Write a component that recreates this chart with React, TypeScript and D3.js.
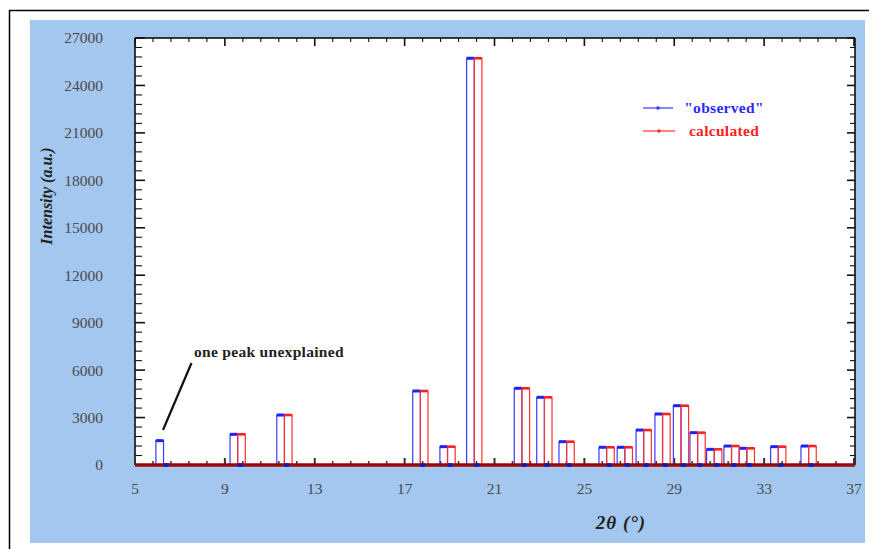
import React from "react";
import * as d3 from "d3";

// Peak positions (2θ, left edge of each observed stick) and intensities
const peakPos = [5.93, 9.23, 11.31, 17.36, 18.57, 19.76, 21.88, 22.88, 23.87, 25.65, 26.46, 27.3, 28.14, 28.96, 29.7, 30.44, 31.21, 31.89, 33.29, 34.64];
const observed = [1540, 1940, 3160, 4680, 1160, 25720, 4850, 4280, 1475, 1120, 1120, 2210, 3225, 3750, 2045, 990, 1200, 1055, 1160, 1200];
const calculated: (number | null)[] = [null, 1940, 3160, 4680, 1160, 25720, 4850, 4280, 1475, 1120, 1120, 2210, 3225, 3750, 2045, 990, 1200, 1055, 1160, 1200];

const xTicks = [5, 9, 13, 17, 21, 25, 29, 33, 37];
const yTicks = [0, 3000, 6000, 9000, 12000, 15000, 18000, 21000, 24000, 27000];

const W = 878;
const H = 549;
const left = 135;
const right = 855;
const top = 38;
const bottom = 465;

const BLUE = "#3a3aff";
const RED = "#ff3030";
const STICK = 0.34; // stick width in degrees

export default function App() {
  const x = d3.scaleLinear().domain([5, 37]).range([left, right - 1]);
  const y = d3.scaleLinear().domain([0, 27000]).range([bottom, top]);

  const minorX = d3.range(5, 37.001, 0.8);
  const minorY = d3.range(0, 27001, 600);

  const stickPath = (p0: number, h: number) => {
    const p = d3.path();
    p.moveTo(x(p0), y(0));
    p.lineTo(x(p0), y(h));
    p.lineTo(x(p0 + STICK), y(h));
    p.lineTo(x(p0 + STICK), y(0));
    return p.toString();
  };

  const serif = "'Liberation Serif', 'DejaVu Serif', serif";

  return (
    <svg
      width={W}
      height={H}
      style={{ position: "absolute", left: 0, top: 0, background: "#fff" }}
    >
      {/* outer frame */}
      <line x1={9.5} y1={10} x2={9.5} y2={H} stroke="#000" strokeWidth={1.5} />
      <line x1={9} y1={10.5} x2={869} y2={10.5} stroke="#000" strokeWidth={1.5} />
      {/* blue panel */}
      <rect x={30} y={20} width={835} height={523} fill="#a4c7ef" />
      {/* plot area */}
      <rect x={left} y={top} width={right - left} height={bottom - top} fill="#fff" />

      {/* y tick labels */}
      {yTicks.map((t) => (
        <text
          key={"yl" + t}
          x={103}
          y={y(t)}
          dy="0.35em"
          textAnchor="end"
          fontFamily={serif}
          fontSize={15.5}
          fill="#4a4a4a"
        >
          {t}
        </text>
      ))}
      {/* x tick labels */}
      {xTicks.map((t) => (
        <text
          key={"xl" + t}
          x={x(t)}
          y={489}
          dy="0.35em"
          textAnchor="middle"
          fontFamily={serif}
          fontSize={15.5}
          fill="#4a4a4a"
        >
          {t}
        </text>
      ))}

      {/* axis titles */}
      <text
        transform={`translate(46,196) rotate(-90)`}
        textAnchor="middle"
        dy="0.35em"
        fontFamily={serif}
        fontSize={16}
        fontWeight="bold"
        fontStyle="italic"
        fill="#222"
      >
        Intensity (a.u.)
      </text>
      <text
        x={621}
        y={522}
        textAnchor="middle"
        dy="0.35em"
        fontFamily={serif}
        fontSize={19}
        fontWeight="bold"
        fontStyle="italic"
        fill="#222"
        letterSpacing={1}
      >
        2θ (°)
      </text>

      {/* frame lines */}
      <line x1={left} y1={top} x2={right} y2={top} stroke="#000" strokeWidth={1.5} />
      <line x1={left} y1={top} x2={left} y2={bottom} stroke="#000" strokeWidth={1.5} />
      <line x1={right} y1={top} x2={right} y2={bottom} stroke="#000" strokeWidth={1.5} />

      {/* left / right ticks */}
      {minorY.map((t, i) => {
        const major = i % 5 === 0;
        return (
          <g key={"yt" + i}>
            <line x1={left} x2={left + (major ? 10 : 7)} y1={y(t)} y2={y(t)} stroke="#111" strokeWidth={major ? 1.6 : 1.1} />
            <line x1={right} x2={right - (major ? 8 : 5)} y1={y(t)} y2={y(t)} stroke="#111" strokeWidth={major ? 1.6 : 1.1} />
          </g>
        );
      })}
      {/* top / bottom ticks */}
      {minorX.map((t, i) => {
        const major = i % 5 === 0;
        return (
          <g key={"xt" + i}>
            <line x1={x(t)} x2={x(t)} y1={top} y2={top + (major ? 8 : 4)} stroke="#111" strokeWidth={major ? 1.6 : 1.1} />
            <line x1={x(t)} x2={x(t)} y1={bottom} y2={bottom - (major ? 7 : 4)} stroke="#333" strokeWidth={major ? 2 : 1.5} />
          </g>
        );
      })}

      {/* observed sticks */}
      {peakPos.map((p, i) => (
        <g key={"ob" + i}>
          <path d={stickPath(p, observed[i])} fill="none" stroke={BLUE} strokeWidth={1.2} />
          <line x1={x(p)} x2={x(p + STICK)} y1={y(observed[i])} y2={y(observed[i])} stroke="#1f1fff" strokeWidth={3} />
        </g>
      ))}
      {/* calculated sticks */}
      {peakPos.map((p, i) => {
        const c = calculated[i];
        if (c == null) return null;
        return (
          <g key={"ca" + i}>
            <path d={stickPath(p + STICK, c)} fill="none" stroke={RED} strokeWidth={1.2} />
            <line x1={x(p + STICK)} x2={x(p + 2 * STICK)} y1={y(c)} y2={y(c)} stroke="#ff1f1f" strokeWidth={2.6} />
          </g>
        );
      })}

      {/* baseline */}
      <line x1={left} x2={right} y1={bottom} y2={bottom} stroke="#9a0a0a" strokeWidth={3.5} />
      {peakPos.map((p, i) => (
        <ellipse key={"bm" + i} cx={x(p + 0.45)} cy={bottom} rx={3} ry={2} fill="#1a1ab0" />
      ))}

      {/* annotation */}
      <line x1={191.5} y1={363} x2={163} y2={430} stroke="#111" strokeWidth={2.2} />
      <text
        x={194}
        y={352}
        dy="0.35em"
        fontFamily={serif}
        fontSize={15.5}
        fontWeight="bold"
        fill="#222"
        letterSpacing={0.3}
      >
        one peak unexplained
      </text>

      {/* legend */}
      <line x1={643} x2={673} y1={108} y2={108} stroke={BLUE} strokeWidth={1.2} />
      <circle cx={658} cy={108} r={1.8} fill={BLUE} />
      <text x={724} y={108} dy="0.35em" textAnchor="middle" fontFamily={serif} fontSize={15.5} fontWeight="bold" fill="#2a2aff" letterSpacing={0.3}>
        "observed"
      </text>
      <line x1={643} x2={675} y1={131} y2={131} stroke={RED} strokeWidth={1.2} />
      <circle cx={659} cy={131} r={1.8} fill={RED} />
      <text x={724} y={131} dy="0.35em" textAnchor="middle" fontFamily={serif} fontSize={15.5} fontWeight="bold" fill="#ff2020" letterSpacing={0.3}>
        calculated
      </text>
    </svg>
  );
}
